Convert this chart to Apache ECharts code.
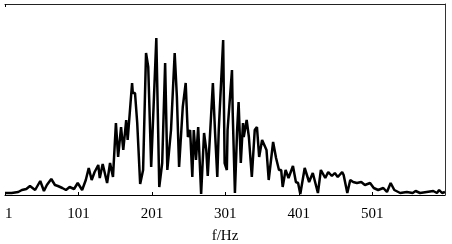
<!DOCTYPE html>
<html>
<head>
<meta charset="utf-8">
<script src="https://cdn.jsdelivr.net/npm/echarts@6/dist/echarts.min.js"></script>
<style>
html,body{margin:0;padding:0;background:#fff;}
#chart{width:452px;height:244px;}
</style>
</head>
<body>
<div id="chart"></div>
<script>
// frequency (Hz) and amplitude (arbitrary units)
var freqs = [1,10,19,24,30,35,42,49,54,58,64,69,73,79,84,89,95,100,106,111,115,119,123,128,130,134,140,144,148,152,155,159,162,166,168,174,175,178,181,185,189,193,196,200,202,207,211,215,219,222,227,232,235,238,243,247,250,253,256,258,261,264,268,272,275,277,284,287,290,292,298,300,303,304,310,311,314,317,319,322,325,326,330,333,337,341,344,347,351,357,360,366,370,374,377,379,383,387,393,397,400,403,409,415,420,427,431,437,441,446,450,454,460,462,467,471,475,480,486,491,498,503,509,516,521,526,531,539,548,556,560,566,575,584,589,592,596,600];
var amps  = [2,2,3,5,6,9,5,14,4,10,16,10,9,7,5,8,6,12,5,15,27,15,23,30,17,31,12,32,18,72,38,68,45,75,55,112,102,102,72,11,25,142,128,28,65,157,8,32,132,25,65,142,98,28,88,112,58,65,18,65,35,68,1,62,45,19,112,62,18,65,155,32,25,65,125,82,2,65,93,32,72,58,75,58,18,65,68,38,55,45,15,53,37,25,25,8,25,17,29,13,12,1,27,13,22,2,25,17,23,19,22,18,23,20,2,15,13,12,13,10,12,7,5,7,3,12,5,2,3,2,4,2,3,4,2,5,2,3];
var tickLabels = [1,101,201,301,401,501];
var axisName = 'f/Hz';

var data = freqs.map(function(f,i){return [f, amps[i]];});
var chart = echarts.init(document.getElementById('chart'), null, {renderer:'canvas'});
var font = 'Liberation Serif';
chart.setOption({
  animation:false,
  backgroundColor:'#fff',
  grid:{left:5,right:7,top:4,bottom:49,containLabel:false,outerBoundsMode:'none'},
  xAxis:[{
    type:'value', min:1, max:600, position:'bottom',
    axisLine:{show:true,lineStyle:{color:'#000',width:1}},
    axisTick:{show:true,inside:true,length:3,customValues:tickLabels,lineStyle:{color:'#000'}},
    axisLabel:{customValues:tickLabels,color:'#000',fontFamily:font,fontSize:15,margin:12,alignMinLabel:'left'},
    splitLine:{show:false},
    name:axisName,nameLocation:'middle',nameGap:34,
    nameTextStyle:{color:'#000',fontFamily:font,fontSize:15}
  },{
    type:'value', min:1, max:600, position:'top',
    axisLine:{show:true,lineStyle:{color:'#222',width:1}},
    axisTick:{show:true,inside:true,length:3,customValues:[1],lineStyle:{color:'#000'}},
    axisLabel:{show:false},splitLine:{show:false}
  }],
  yAxis:{
    type:'value', min:0, max:191, position:'right',
    axisLine:{show:true,lineStyle:{color:'#333',width:1}},
    axisTick:{show:false},axisLabel:{show:false},splitLine:{show:false}
  },
  series:[{
    type:'line', data:data, showSymbol:false, symbol:'none',
    lineStyle:{color:'#000',width:2.5}, xAxisIndex:0
  }]
});
</script>
</body>
</html>
